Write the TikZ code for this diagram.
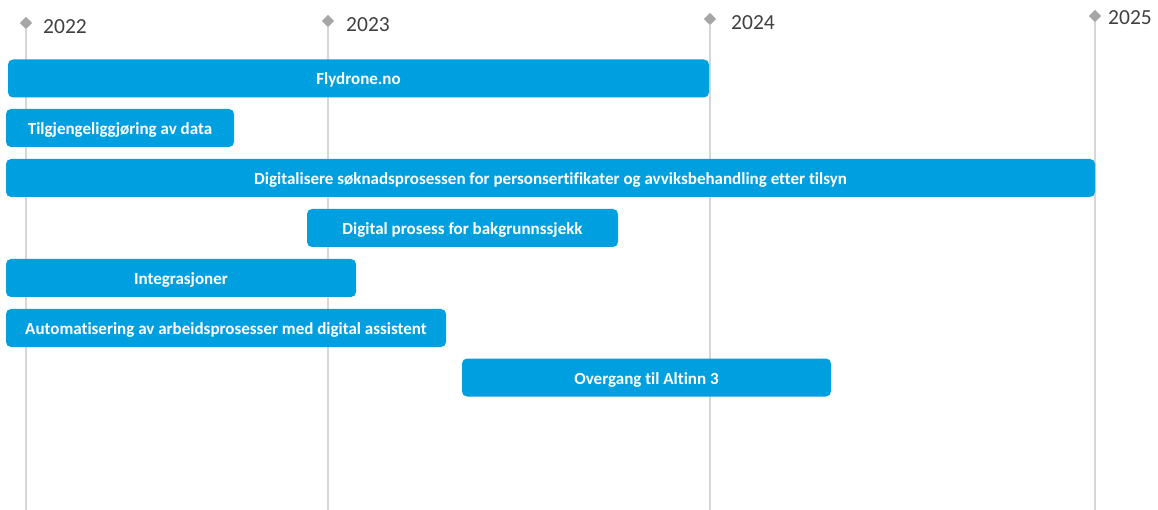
\documentclass[tikz,border=0pt]{standalone}
\usepackage{fontspec}
\setmainfont[Ligatures=NoCommon]{Carlito}
\usetikzlibrary{shapes.geometric}
\definecolor{barblue}{RGB}{0,160,224}
\definecolor{gridgray}{RGB}{214,214,214}
\definecolor{diagray}{RGB}{166,166,166}
\definecolor{yeartext}{RGB}{64,64,64}
\tikzset{
  bar/.style={rectangle, rounded corners=5pt, fill=barblue, inner sep=0pt, text=white,
    font=\fontsize{17}{19}\selectfont\bfseries, minimum height=38pt,
    text height=13pt, text depth=0pt},
  mark diamond/.style={diamond, fill=diagray, inner sep=0pt, minimum size=12pt},
  yearlab/.style={anchor=west, text=yeartext, font=\fontsize{21.5}{23}\selectfont, inner sep=0pt},
  gridline/.style={draw=gridgray, line width=1.6pt}
}
\begin{document}
\begin{tikzpicture}[x=1pt,y=-1pt]
\useasboundingbox (0,0) rectangle (1158,510);
% timeline markers
\node[mark diamond] (d1) at (26,23) {};
\node[mark diamond] (d2) at (328,21) {};
\node[mark diamond] (d3) at (710,19) {};
\node[mark diamond] (d4) at (1095,16) {};
\coordinate (e1) at (26,510);
\coordinate (e2) at (328,510);
\coordinate (e3) at (710,510);
\coordinate (e4) at (1095,510);
\draw[gridline] (d1.center) -- (e1);
\draw[gridline] (d2.center) -- (e2);
\draw[gridline] (d3.center) -- (e3);
\draw[gridline] (d4.center) -- (e4);
\node[mark diamond] at (26,23) {};
\node[mark diamond] at (328,21) {};
\node[mark diamond] at (710,19) {};
\node[mark diamond] at (1095,16) {};
\node[yearlab] (y1) at (43,27) {2022};
\node[yearlab] (y2) at (346,25) {2023};
\node[yearlab] (y3) at (731,23) {2024};
\node[yearlab] (y4) at (1108,18) {2025};
% bars
\node[bar, minimum width=701pt] (b1) at (358.5,78.5) {Flydrone.no};
\node[bar, minimum width=228pt] (b2) at (120,128) {Tilgjengeliggjøring av data};
\node[bar, minimum width=1089pt] (b3) at (550.5,178) {Digitalisere søknadsprosessen for personsertifikater og avviksbehandling etter tilsyn};
\node[bar, minimum width=311pt] (b4) at (462.5,228) {Digital prosess for bakgrunnssjekk};
\node[bar, minimum width=350pt] (b5) at (181,278) {Integrasjoner};
\node[bar, minimum width=440pt] (b6) at (226,328) {Automatisering av arbeidsprosesser med digital assistent};
\node[bar, minimum width=369pt] (b7) at (646.5,377.5) {Overgang til Altinn 3};
\end{tikzpicture}
\end{document}
